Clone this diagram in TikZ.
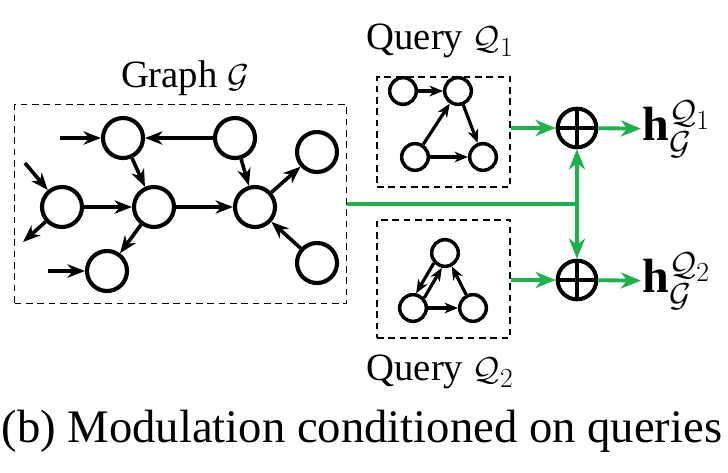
\documentclass[tikz,border=0pt]{standalone}
\usepackage{fontspec}
\setmainfont{Liberation Serif}
\DeclareMathSizes{29}{29}{22}{17}
\DeclareMathSizes{36}{36}{28}{21}
\usetikzlibrary{arrows.meta}
\definecolor{flowgreen}{RGB}{30,178,76}
\begin{document}
\begin{tikzpicture}[x=0.75pt,y=-0.75pt,
  vtx/.style={circle,draw,line width=3.1pt,minimum size=30pt,inner sep=0pt},
  qvtx/.style={circle,draw,line width=2.6pt,minimum size=20pt,inner sep=0pt},
  link/.style={line width=2.7pt,-{Stealth[length=13pt,width=10pt,inset=4pt]}},
  qlink/.style={line width=2.4pt,-{Stealth[length=10pt,width=8pt,inset=3pt]}},
  dbox/.style={draw,line width=1.2pt,dash pattern=on 5pt off 3.5pt,inner sep=0pt},
  glink/.style={draw=flowgreen,line width=2.9pt,-{Stealth[length=15pt,width=12pt,inset=4.5pt]}},
  gline/.style={draw=flowgreen,line width=2.9pt},
  plus/.style={circle,draw,line width=3pt,minimum size=29pt,inner sep=0pt},
  lbl/.style={font=\fontsize{29}{32}\selectfont,inner sep=1pt},
  hlbl/.style={font=\fontsize{36}{38}\selectfont,inner sep=1pt,anchor=west},
]
\useasboundingbox (0,0) rectangle (728,472);

% input graph
\node[dbox,minimum width=249pt,minimum height=149pt] (G) at (180.5,204) {};
\node[lbl] (Gl) at (185,78) {Graph $\mathcal{G}$};
\node[vtx] (a) at (123,138) {};
\node[vtx] (b) at (235,138) {};
\node[vtx] (c) at (317,152) {};
\node[vtx] (d) at (62,207) {};
\node[vtx] (e) at (154,207) {};
\node[vtx] (f) at (255,207) {};
\node[vtx] (g) at (107,271) {};
\node[vtx] (h) at (317,263) {};
\coordinate (ina) at (60,138);
\coordinate (ind) at (25,163);
\coordinate (outd) at (23,242);
\coordinate (ing) at (48,271);
\draw[link] (ina) -- (a);
\draw[link] (b) -- (a);
\draw[link] (a) -- (e);
\draw[link] (b) -- (f);
\draw[link] (f) -- (c);
\draw[link] (h) -- (f);
\draw[link] (d) -- (e);
\draw[link] (e) -- (f);
\draw[link] (e) -- (g);
\draw[link] (ind) -- (d);
\draw[link] (d) -- (outd);
\draw[link] (ing) -- (g);

% query 1
\node[dbox,minimum width=100pt,minimum height=82.5pt] (Q1) at (443.5,132) {};
\node[lbl] (Q1l) at (440,41) {Query $\mathcal{Q}_1$};
\node[qvtx] (q1a) at (403,91) {};
\node[qvtx] (q1b) at (458,91) {};
\node[qvtx] (q1c) at (415,157) {};
\node[qvtx] (q1d) at (483,157) {};
\draw[qlink] (q1a) -- (q1b);
\draw[qlink] (q1c) -- (q1b);
\draw[qlink] (q1b) -- (q1d);
\draw[qlink] (q1c) -- (q1d);

% query 2
\node[dbox,minimum width=100pt,minimum height=88.5pt] (Q2) at (443.5,279) {};
\node[lbl] (Q2l) at (440,372) {Query $\mathcal{Q}_2$};
\node[qvtx] (q2t) at (445,253) {};
\node[qvtx] (q2l) at (413,308) {};
\node[qvtx] (q2r) at (473,308) {};
\draw[qlink] (q2l.42) -- (q2t.258);
\draw[qlink] (q2t.222) -- (q2l.78);
\draw[qlink] (q2l) -- (q2r);
\draw[qlink] (q2r) -- (q2t);

% modulation
\node[plus] (p1) at (577,128) {};
\node[plus] (p2) at (577,280) {};
\foreach \p in {p1,p2} {
  \draw[line width=2.7pt] (\p.north) -- (\p.south);
  \draw[line width=2.7pt] (\p.west) -- (\p.east);
}
\coordinate (J) at (p1 |- G.east);
\draw[gline] (G.east) -- (J);
\draw[glink] (J) -- (p1);
\draw[glink] (J) -- (p2);
\draw[glink] (p1 -| Q1.east) -- (p1);
\draw[glink] (p2 -| Q2.east) -- (p2);
\node[hlbl] (h1) at (641,129) {$\mathbf{h}_{\mathcal{G}}^{\mathcal{Q}_1}$};
\node[hlbl] (h2) at (641,281) {$\mathbf{h}_{\mathcal{G}}^{\mathcal{Q}_2}$};
\draw[glink] (p1) -- (h1);
\draw[glink] (p2) -- (h2);

% caption
\node[font=\fontsize{35}{40}\selectfont,inner sep=0pt,anchor=base] (cap) at (362,442) {(b) Modulation conditioned on queries};
\end{tikzpicture}
\end{document}
